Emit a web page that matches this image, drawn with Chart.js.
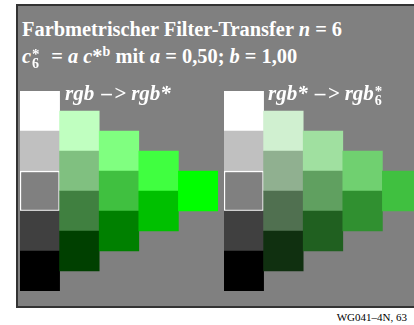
<!DOCTYPE html>
<html>
<head>
<meta charset="utf-8">
<script src="https://cdn.jsdelivr.net/npm/chart.js@4.4.1/dist/chart.umd.min.js"></script>
<style>
  html, body { margin: 0; padding: 0; width: 414px; height: 325px; overflow: hidden; background: #fff; }
  #box { position: absolute; left: 16px; top: 4px; width: 396px; height: 300px; background: #808080;
         border-left: 2px solid #333; border-top: 2px solid #333; border-bottom: 2px solid #333; }
  canvas { position: absolute; top: 91px; }
  #left { left: 20px; }
  #right { left: 224px; }
  .t { position: absolute; color: #fff; font-family: "Liberation Serif", "Times New Roman", serif;
       font-weight: bold; font-size: 20.4px; line-height: 20px; white-space: nowrap; }
  .lab { font-size: 21px; }
  .dash { padding-left: 2px; padding-right: 2px; }
  .ss { position: relative; display: inline-block; width: 10px; height: 20px; vertical-align: top; }
  .ss .up { position: absolute; left: 1px; top: -2px; font-size: 15px; }
  .ss .dn { position: absolute; left: 1px; top: 8px; font-size: 14px; }
  sup { font-size: 14px; line-height: 0; vertical-align: 7px; }
  #foot { position: absolute; right: 7px; top: 312px; font-family: "Liberation Serif", serif;
          font-size: 11px; line-height: 11px; color: #000; }
</style>
</head>
<body>
<div id="box"></div>
<canvas id="left" width="198" height="200"></canvas>
<canvas id="right" width="198" height="200"></canvas>

<div class="t" style="left:22px; top:19px;">Farbmetrischer Filter-Transfer <i>n</i> = 6</div>
<div class="t" style="left:22px; top:46px;"><i>c</i><span class="ss"><span class="up">*</span><span class="dn">6</span></span>&nbsp; = <i>a c</i>*<sup>b</sup> mit <i>a</i> = 0,50; <i>b</i> = 1,00</div>
<div class="t lab" style="left:65px; top:83px;"><i>rgb <span class="dash">–</span>&gt; rgb*</i></div>
<div class="t lab" style="left:268px; top:83px;"><i>rgb* <span class="dash">–</span>&gt; rgb</i><span class="ss"><span class="up">*</span><span class="dn">6</span></span></div>
<div id="foot">WG041–4N, 63</div>

<script>
// Spalten = Buntheitsstufen, Zeilen = Helligkeitsstufen
const columnLabels = ["C0", "C1", "C2", "C3", "C4"];

// rgb -> rgb*
const leftColors = [
  ["#ffffff", "#c0c0c0", "#808080", "#404040", "#000000"],
  ["#c0ffc0", "#80c080", "#408040", "#004000"],
  ["#80ff80", "#40c040", "#008000"],
  ["#40ff40", "#00c000"],
  ["#00ff00"]
];

// rgb* -> rgb*6 (a = 0,50)
const rightColors = [
  ["#ffffff", "#c0c0c0", "#808080", "#404040", "#000000"],
  ["#d0f0d0", "#90b090", "#507050", "#103010"],
  ["#a0e0a0", "#60a060", "#206020"],
  ["#70d070", "#309030"],
  ["#40c040"]
];

function makePanel(id, colors) {
  const points = [];
  const fills = [];
  const widths = [];
  colors.forEach(function (col, k) {
    const top = 2.5 - 0.5 * k;
    col.forEach(function (c, i) {
      points.push({ x: columnLabels[k], y: [top - i - 1, top - i] });
      fills.push(c);
      widths.push(k === 0 && i === 2 ? 1.5 : 0); // Mittelgrau umrandet
    });
  });

  new Chart(document.getElementById(id), {
    type: "bar",
    data: {
      labels: columnLabels,
      datasets: [
        {
          data: points,
          backgroundColor: fills,
          borderColor: "#ffffff",
          borderWidth: widths,
          borderSkipped: false,
          barPercentage: 1,
          categoryPercentage: 1,
          grouped: false,
        },
      ],
    },
    options: {
      responsive: false,
      animation: false,
      layout: { padding: 0 },
      plugins: { legend: { display: false }, tooltip: { enabled: false } },
      scales: {
        x: { display: false },
        y: { display: false, min: -2.5, max: 2.5 },
      },
    },
  });
}

makePanel("left", leftColors);
makePanel("right", rightColors);
</script>
</body>
</html>
